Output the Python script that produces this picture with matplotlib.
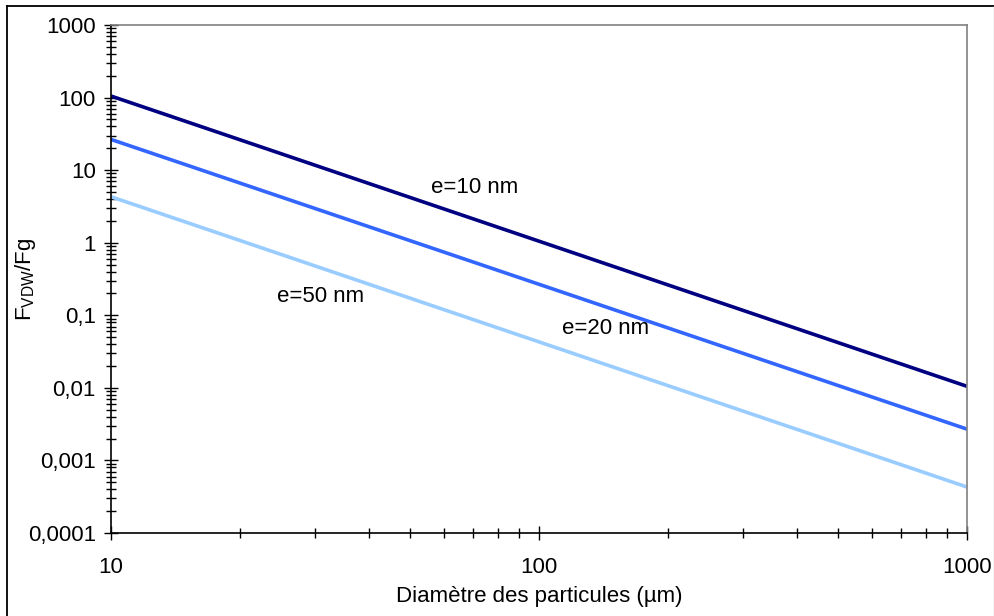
import matplotlib
matplotlib.use('Agg')
import matplotlib.pyplot as plt
from matplotlib.lines import Line2D
from matplotlib.ticker import FixedLocator, LogLocator, NullFormatter, FixedFormatter

plt.rcParams['font.family'] = ['Liberation Sans', 'DejaVu Sans']
plt.rcParams['mathtext.fontset'] = 'custom'
plt.rcParams['mathtext.rm'] = 'Liberation Sans'

# diameter of particles (um)
diam = [10, 1000]
# FVDW/Fg for each thickness
e10 = [105, 0.0105]
e20 = [26.5, 0.0027]
e50 = [4.3, 0.00043]

yticks = [0.0001, 0.001, 0.01, 0.1, 1, 10, 100, 1000]
ylabels = ['0,0001', '0,001', '0,01', '0,1', '1', '10', '100', '1000']
xticks = [10, 100, 1000]
xlabels = ['10', '100', '1000']

fig = plt.figure(figsize=(9.95, 6.16), dpi=100)
ax = fig.add_axes([0.1116, 0.1347, 0.8603, 0.8247])

ax.plot(diam, e10, '-', color='#000080', lw=2.6, solid_capstyle='butt')
ax.plot(diam, e20, '-', color='#3366FF', lw=2.6, solid_capstyle='butt')
ax.plot(diam, e50, '-', color='#99CCFF', lw=2.6, solid_capstyle='butt')

ax.set_xscale('log')
ax.set_yscale('log')
ax.set_xlim(10, 1000)
ax.set_ylim(0.0001, 1000)

ax.yaxis.set_major_locator(FixedLocator(yticks))
ax.yaxis.set_major_formatter(FixedFormatter(ylabels))
ax.xaxis.set_major_locator(FixedLocator(xticks))
ax.xaxis.set_major_formatter(FixedFormatter(xlabels))
ax.yaxis.set_minor_locator(LogLocator(base=10, subs=range(2, 10)))
ax.xaxis.set_minor_locator(LogLocator(base=10, subs=range(2, 10)))
ax.yaxis.set_minor_formatter(NullFormatter())
ax.xaxis.set_minor_formatter(NullFormatter())

ax.tick_params(which='major', direction='inout', length=10, width=1, labelsize=16, color='black')
ax.tick_params(which='minor', direction='inout', length=6.5, width=1, color='black')
ax.tick_params(axis='y', which='major', pad=6)
ax.tick_params(axis='x', which='major', pad=12)

for s in ['left', 'bottom']:
    ax.spines[s].set_color('black')
    ax.spines[s].set_linewidth(1.2)
for s in ['top', 'right']:
    ax.spines[s].set_color('#808080')
    ax.spines[s].set_linewidth(1.2)

ax.set_xlabel('Diamètre des particules (µm)', fontsize=16, labelpad=6)
ax.set_ylabel(r'F$_{\mathrm{VDW}}$/Fg', fontsize=16)
ax.yaxis.set_label_coords(-0.0853, 0.5)

ax.text(70.9, 5.86, 'e=10 nm', fontsize=16, ha='center', va='center')
ax.text(143.4, 0.0668, 'e=20 nm', fontsize=16, ha='center', va='center')
ax.text(30.8, 0.179, 'e=50 nm', fontsize=16, ha='center', va='center')

# outer frame
W, H = 995.0, 616.0
fig.add_artist(Line2D([7 / W, 994 / W], [1 - 6 / H, 1 - 6 / H], color='black', lw=1.3))
fig.add_artist(Line2D([7 / W, 7 / W], [0, 1 - 6 / H], color='black', lw=1.3))
fig.add_artist(Line2D([994 / W, 994 / W], [0, 1 - 6 / H], color='#C8C8C8', lw=1.0))

fig.savefig('out.png', dpi=100)
